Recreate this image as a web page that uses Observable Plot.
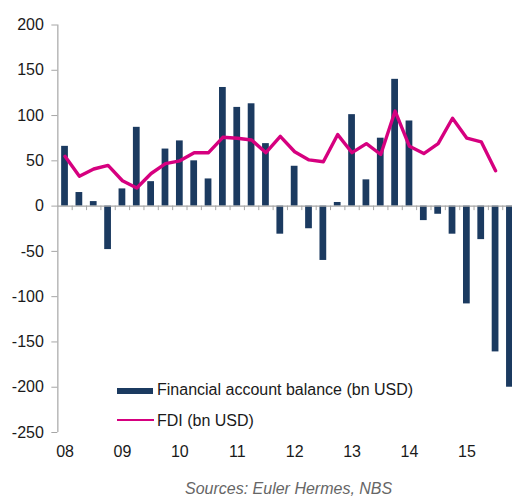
<!DOCTYPE html>
<html>
<head>
<meta charset="utf-8">
<script src="https://cdn.jsdelivr.net/npm/d3@7"></script>
<script src="https://cdn.jsdelivr.net/npm/@observablehq/plot@0.6"></script>
<style>
  html, body { margin: 0; padding: 0; background: #fff; }
  #wrap { position: relative; width: 512px; height: 496px; overflow: hidden; font-family: "Liberation Sans", Arial, sans-serif; }
  #wrap svg { position: absolute; left: 0; top: 0; overflow: hidden; }
  .lg { position: absolute; font-size: 16px; line-height: 16px; color: #1a1a1a; white-space: nowrap; }
  .sw { position: absolute; }
  #cap { position: absolute; left: 185px; top: 481px; font-size: 16px; line-height: 16px; font-style: italic; color: #666; white-space: nowrap; }
</style>
</head>
<body>
<div id="wrap"></div>
<script>
const years = ["08", "09", "10", "11", "12", "13", "14", "15"];
const quarters = [
  "08Q1","08Q2","08Q3","08Q4","09Q1","09Q2","09Q3","09Q4",
  "10Q1","10Q2","10Q3","10Q4","11Q1","11Q2","11Q3","11Q4",
  "12Q1","12Q2","12Q3","12Q4","13Q1","13Q2","13Q3","13Q4",
  "14Q1","14Q2","14Q3","14Q4","15Q1","15Q2","15Q3","15Q4"
];
const balance = [
  66, 15, 5, -48, 19, 87, 27, 63,
  72, 50, 30, 131, 109, 113, 69, -31,
  44, -25, -60, 4, 101, 29, 75, 140,
  94, -16, -9, -31, -108, -37, -161, -200
];
const fdi = [
  55, 33, 41, 45, 28, 20, 36, 47,
  50, 59, 59, 76, 75, 73, 59, 77,
  60, 51, 49, 79, 59, 69, 57, 105,
  66, 58, 69, 97, 75, 71, 39, null
];
const yTicks = [-250, -200, -150, -100, -50, 0, 50, 100, 150, 200];
const seriesNames = ["Financial account balance (bn USD)", "FDI (bn USD)"];
const colors = ["#1b3a60", "#d6007f"];

const rows = quarters.map((q, i) => ({ q, i, balance: balance[i], fdi: fdi[i] }));
const boundaries = quarters.slice(1).map((q, k) => k + 1);
const yearPos = years.map((y, k) => k * 4 + 0.5);

const chart = Plot.plot({
  width: 512,
  height: 465,
  marginTop: 24.5,
  marginBottom: 33,
  marginLeft: 57.35,
  marginRight: 0,
  style: { fontFamily: "Liberation Sans, Arial, sans-serif", fontSize: "16px", color: "#1a1a1a", background: "#fff" },
  x: { domain: [0, 32], range: [57.35, 516.6] },
  y: { domain: [-250, 200] },
  marks: [
    Plot.rectY(rows, { x1: d => d.i + 0.265, x2: d => d.i + 0.735, y1: 0, y2: "balance", fill: colors[0] }),
    Plot.ruleY([0], { stroke: "#a6a6a6", strokeWidth: 1.2 }),
    Plot.ruleX(boundaries, { y1: 0, y2: -5, stroke: "#a6a6a6", strokeWidth: 1 }),
    Plot.ruleX([0], { stroke: "#a6a6a6", strokeWidth: 1.2 }),
    Plot.line(rows.filter(d => d.fdi != null), { x: d => d.i + 0.5, y: "fdi", stroke: colors[1], strokeWidth: 3.4, strokeLinejoin: "round" }),
    Plot.axisY({ ticks: yTicks, tickSize: 6, tickPadding: 8, stroke: "#a6a6a6", tickFormat: d => String(d), fontSize: 16, label: null }),
    Plot.axisX({ ticks: yearPos, tickSize: 0, tickPadding: 13, tickFormat: v => years[Math.floor(v / 4)], fontSize: 16, label: null })
  ]
});

const wrap = document.getElementById("wrap");
wrap.appendChild(chart);

// Legend (inside plot area)
const sw1 = document.createElement("div");
sw1.className = "sw";
Object.assign(sw1.style, { left: "117px", top: "388px", width: "36px", height: "6px", background: colors[0] });
wrap.appendChild(sw1);
const t1 = document.createElement("div");
t1.className = "lg";
Object.assign(t1.style, { left: "157px", top: "381.5px" });
t1.textContent = seriesNames[0];
wrap.appendChild(t1);

const sw2 = document.createElement("div");
sw2.className = "sw";
Object.assign(sw2.style, { left: "117px", top: "419px", width: "37px", height: "2.2px", background: colors[1] });
wrap.appendChild(sw2);
const t2 = document.createElement("div");
t2.className = "lg";
Object.assign(t2.style, { left: "157px", top: "413px" });
t2.textContent = seriesNames[1];
wrap.appendChild(t2);

const cap = document.createElement("div");
cap.id = "cap";
cap.textContent = "Sources: Euler Hermes, NBS";
wrap.appendChild(cap);
</script>
</body>
</html>
